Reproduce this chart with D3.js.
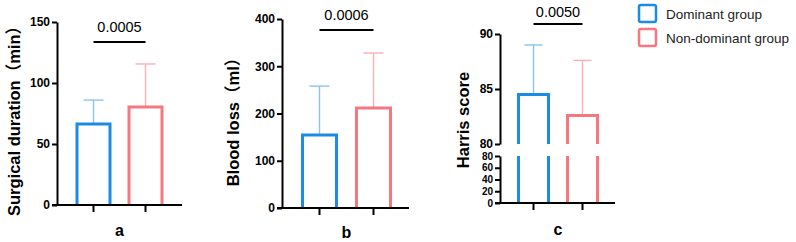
<!DOCTYPE html>
<html>
<head>
<meta charset="utf-8">
<script src="https://cdn.jsdelivr.net/npm/d3@7/dist/d3.min.js"></script>
<style>
  body { margin: 0; background: #fff; }
  text { font-family: "Liberation Sans", Arial, "Noto Sans CJK SC", sans-serif; }
  .tick text { font-weight: bold; font-size: 12px; font-family: "Liberation Sans", Arial, sans-serif; }
  .low .tick text { font-size: 10px; }
</style>
</head>
<body>
<div id="chart"></div>
<script>
// data
const groups = ["Dominant group", "Non-dominant group"];
const panelLetters = ["a", "b", "c"];
const yTitles = ["Surgical duration（min）", "Blood loss（ml）", "Harris score"];
const pValues = ["0.0005", "0.0006", "0.0050"];

const durationMean = [66.4, 80.4];
const durationSD = [19.6, 35.2];
const bloodMean = [154.5, 211.5];
const bloodSD = [103.5, 116.5];
const harrisMean = [84.5, 82.6];
const harrisSD = [4.5, 5.0];

const durationTicks = [0, 50, 100, 150];
const bloodTicks = [0, 100, 200, 300, 400];
const harrisTopTicks = [80, 85, 90];
const harrisBottomTicks = [0, 20, 40, 60, 80];

const barColors = ["#1c8be4", "#f6777f"];
const errColors = ["#8cc3ec", "#f7b1b7"];

const W = 796, H = 242;

const svg = d3.select("#chart").append("svg")
    .attr("width", W)
    .attr("height", H);

// panel layout
const panels = [
  {mean: durationMean, sd: durationSD, ticks: durationTicks, domain: [0, 150], yRange: [205, 22],
   ax: 57, xEnd: 182, centers: [93.5, 145.5], barW: 33, capW: 20,
   labelX: 14, labelY: 117, sigY: 42, pY: 32, letterY: 236},
  {mean: bloodMean, sd: bloodSD, ticks: bloodTicks, domain: [0, 400], yRange: [208, 19],
   ax: 282, xEnd: 409, centers: [319.5, 373.5], barW: 34, capW: 20,
   labelX: 233, labelY: 118, sigY: 30, pY: 20, letterY: 238},
  {mean: harrisMean, sd: harrisSD, ticks: harrisTopTicks, domain: [80, 90], yRange: [144, 34],
   lowTicks: harrisBottomTicks, lowDomain: [0, 80], lowRange: [203, 156],
   ax: 500, xEnd: 615, centers: [533.5, 582.5], barW: 30, capW: 18,
   labelX: 463, labelY: 120, sigY: 24, pY: 17, letterY: 235}
];

function styleAxis(g) {
  g.attr("font-family", null).attr("font-size", null);
  g.select(".domain").attr("stroke", "#000").attr("stroke-width", 2);
  g.selectAll(".tick line").attr("stroke", "#000").attr("stroke-width", 2);
  g.selectAll(".tick text")
    .attr("fill", "#000")
    .attr("x", -7);
}

panels.forEach((p, i) => {
  const g = svg.append("g");
  const y = d3.scaleLinear().domain(p.domain).range(p.yRange);
  const x = d3.scalePoint().domain(groups).range(p.centers);
  const base = p.lowRange ? p.lowRange[0] : p.yRange[0];

  // bars (open at bottom)
  groups.forEach((grp, k) => {
    const cx = x(grp), x0 = cx - p.barW / 2, x1 = cx + p.barW / 2;
    const top = y(p.mean[k]);
    const bot = y(p.domain[0]);

    // error bar
    g.append("line")
      .attr("x1", cx).attr("x2", cx)
      .attr("y1", top).attr("y2", y(p.mean[k] + p.sd[k]))
      .attr("stroke", errColors[k]).attr("stroke-width", 1.4);
    g.append("line")
      .attr("x1", cx - p.capW / 2).attr("x2", cx + p.capW / 2)
      .attr("y1", y(p.mean[k] + p.sd[k])).attr("y2", y(p.mean[k] + p.sd[k]))
      .attr("stroke", errColors[k]).attr("stroke-width", 1.4);

    g.append("path")
      .attr("d", `M${x0},${bot}V${top}H${x1}V${bot}`)
      .attr("fill", p.lowRange ? "none" : "#fff")
      .attr("stroke", barColors[k]).attr("stroke-width", 3);

    if (p.lowRange) {
      const yl = d3.scaleLinear().domain(p.lowDomain).range(p.lowRange);
      [x0, x1].forEach(xx => {
        g.append("line")
          .attr("x1", xx).attr("x2", xx)
          .attr("y1", yl(p.lowDomain[1])).attr("y2", yl(0))
          .attr("stroke", barColors[k]).attr("stroke-width", 3);
      });
    }
  });

  // y axis
  g.append("g")
    .attr("transform", `translate(${p.ax},0)`)
    .call(d3.axisLeft(y).tickValues(p.ticks).tickSize(5).tickSizeOuter(0).tickFormat(d3.format("d")))
    .call(styleAxis);

  if (p.lowRange) {
    const yl = d3.scaleLinear().domain(p.lowDomain).range(p.lowRange);
    g.append("g")
      .attr("class", "low")
      .attr("transform", `translate(${p.ax},0)`)
      .call(d3.axisLeft(yl).tickValues(p.lowTicks).tickSize(5).tickSizeOuter(0).tickFormat(d3.format("d")))
      .call(styleAxis);
  }

  // x axis
  g.append("line")
    .attr("x1", p.ax - 5).attr("x2", p.xEnd)
    .attr("y1", base).attr("y2", base)
    .attr("stroke", "#000").attr("stroke-width", 2);
  groups.forEach(grp => {
    g.append("line")
      .attr("x1", x(grp)).attr("x2", x(grp))
      .attr("y1", base).attr("y2", base + 7)
      .attr("stroke", "#000").attr("stroke-width", 2);
  });

  // significance bracket
  g.append("line")
    .attr("x1", x(groups[0])).attr("x2", x(groups[1]))
    .attr("y1", p.sigY).attr("y2", p.sigY)
    .attr("stroke", "#000").attr("stroke-width", 2);
  g.append("text")
    .attr("x", (x(groups[0]) + x(groups[1])) / 2)
    .attr("y", p.pY)
    .attr("text-anchor", "middle")
    .style("font-size", "14.5px")
    .text(pValues[i]);

  // titles
  g.append("text")
    .attr("transform", `translate(${p.labelX},${p.labelY}) rotate(-90)`)
    .attr("text-anchor", "middle")
    .attr("dy", "0.35em")
    .style("font-size", "16.5px").style("font-weight", "bold")
    .text(yTitles[i]);
  g.append("text")
    .attr("x", (p.centers[0] + p.centers[1]) / 2)
    .attr("y", p.letterY)
    .attr("text-anchor", "middle")
    .style("font-size", "16px").style("font-weight", "bold")
    .text(panelLetters[i]);
});

// legend
const leg = svg.append("g").attr("transform", "translate(639,5)");
groups.forEach((grp, k) => {
  leg.append("rect")
    .attr("x", 0).attr("y", k * 24)
    .attr("width", 17).attr("height", 17)
    .attr("rx", 2)
    .attr("fill", "#fff")
    .attr("stroke", barColors[k]).attr("stroke-width", 2.5);
  leg.append("text")
    .attr("x", 27).attr("y", k * 24 + 14)
    .style("font-size", "13.5px")
    .attr("fill", "#222")
    .text(grp);
});
</script>
</body>
</html>
